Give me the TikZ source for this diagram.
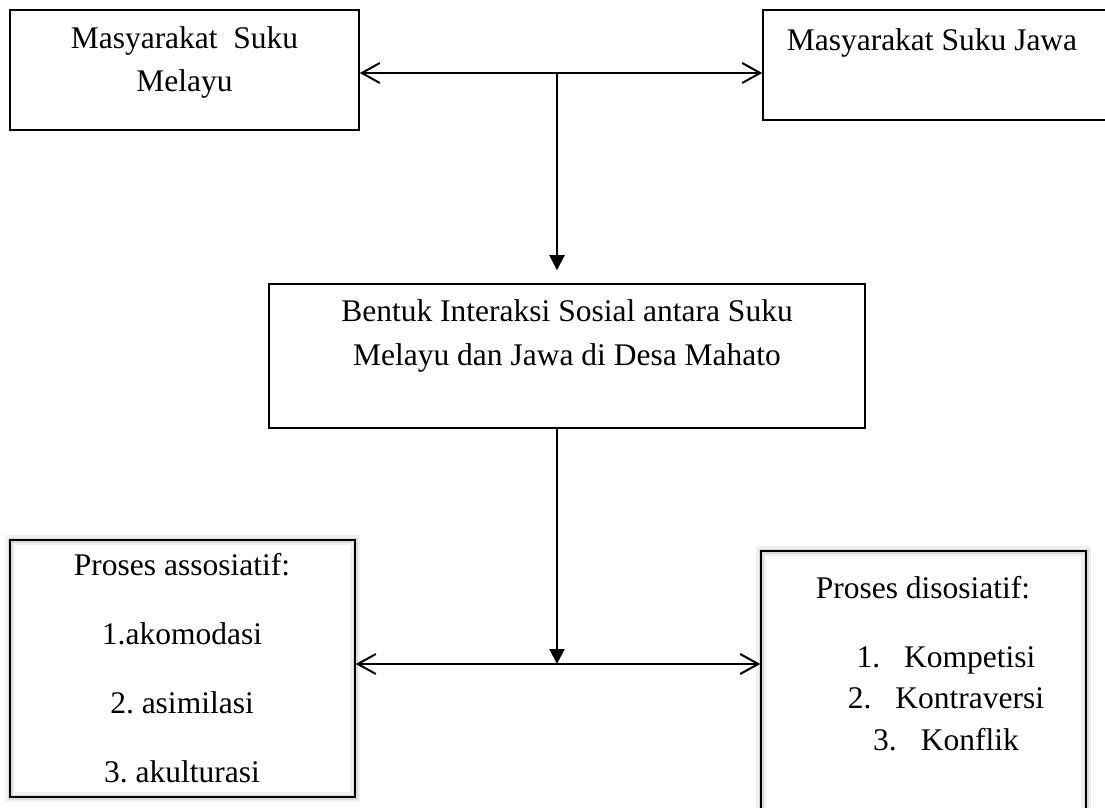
\documentclass[tikz,border=0pt]{standalone}
\usepackage{fontspec}
\setmainfont{Liberation Serif}
\frenchspacing
\usetikzlibrary{arrows.meta, positioning}

\begin{document}
\begin{tikzpicture}[
    x=0.5pt, y=-0.5pt,
    box/.style={rectangle, draw=black, line width=0.75pt, inner sep=0pt},
    softbox/.style={box, preaction={draw=black!6, line width=5pt},
                    preaction={draw=black!14, line width=2.5pt}},
    txt/.style={font=\fontsize{15.75pt}{21.5pt}\selectfont, align=center,
                anchor=base, inner sep=0pt},
    biarrow/.style={{Straight Barb[length=9pt, width=10pt]}-{Straight Barb[length=9pt, width=10pt]},
                    line width=1pt},
    downarrow/.style={-{Triangle[length=7.5pt, width=7.5pt]}, line width=1pt}
]
\path[use as bounding box, clip] (0,0) rectangle (1105,808);

% ethnic groups (text nodes sit on the baseline of their last line)
\node[box, minimum width=174.5pt, minimum height=60pt] (melayu) at (184.5,70) {};
\node[box, minimum width=173.5pt, minimum height=55pt] (jawa) at (936.5,65) {};
\node[txt] (melayuTxt) at (184.5,92) {Masyarakat\ \ Suku\\Melayu};
\node[txt] (jawaTxt) at (932,51) {Masyarakat Suku Jawa};

% interaction
\node[box, minimum width=298pt, minimum height=72pt] (bentuk) at (567,356) {};
\node[txt, font=\fontsize{15.75pt}{22pt}\selectfont] (bentukTxt) at (567,365)
    {Bentuk Interaksi Sosial antara Suku\\Melayu dan Jawa di Desa Mahato};

% processes
\node[softbox, minimum width=172.5pt, minimum height=128.5pt] (asosiatif) at (182.5,668.5) {};
\node[txt, font=\fontsize{15.75pt}{34.5pt}\selectfont] (asosiatifTxt) at (182,782)
    {Proses assosiatif:\\1.akomodasi\\2. asimilasi\\3. akulturasi};
\node[softbox, minimum width=162.5pt, minimum height=144.5pt] (disosiatif) at (923.5,695.5) {};
\node[txt] (disosiatifTxt) at (923,598) {Proses disosiatif:};
\node[txt, font=\fontsize{15.75pt}{20.7pt}\selectfont] (disosiatifList) at (946,750)
    {1.\hspace{12pt}Kompetisi\\2.\hspace{12pt}Kontraversi\\3.\hspace{12pt}Konflik};

% connectors
\coordinate (split) at (557,73);
\coordinate (join) at (557,664);
\draw[biarrow] (melayu.east |- split) -- (jawa.west |- split);
\draw[downarrow, shorten >=6.5pt] (split) -- (bentuk.north -| split);
\draw[downarrow] (bentuk.south -| join) -- (join);
\draw[biarrow] (asosiatif.east |- join) -- (disosiatif.west |- join);

\end{tikzpicture}
\end{document}
